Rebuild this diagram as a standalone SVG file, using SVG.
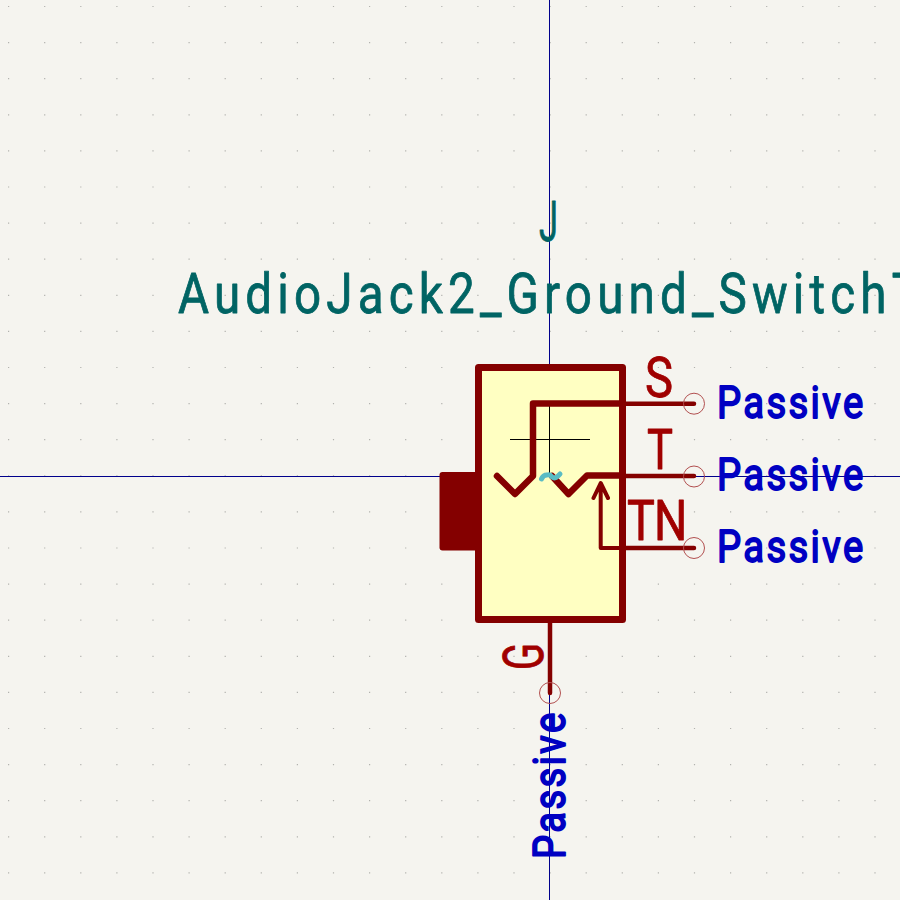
<svg xmlns="http://www.w3.org/2000/svg" width="900" height="900" viewBox="0 0 900 900">
<style>
.grid{stroke:#b2b2ae;stroke-width:1.2;stroke-dasharray:1.2 34.9;fill:none}
.axis{stroke:#00008b;stroke-width:1;fill:none}
.cross{stroke:#000;stroke-width:1;fill:none}
.wire{stroke:#840000;fill:none;stroke-linejoin:round;stroke-linecap:round}
.pin{stroke-width:4.5}
.inner{stroke-width:6.5}
.ring{stroke:#b25050;stroke-width:1;fill:none}
text{font-family:Roboto,"Liberation Sans",Arial,sans-serif;stroke-linejoin:round}
.ref{fill:#006464;stroke:#006464;stroke-width:.8;font-size:56px}
.pn{fill:#a00000;stroke:#a00000;stroke-width:.8;font-size:55px}
.ty{fill:#0000c2;stroke:#0000c2;stroke-width:1.8;font-size:45px}
</style>
<rect width="900" height="900" fill="#f5f4ef"/>
<g id="grid">
<path class="grid" d="M8 6.5H900M8 42.6H900M8 78.7H900M8 114.8H900M8 150.9H900M8 187H900M8 223.1H900M8 259.2H900M8 295.3H900M8 331.4H900M8 367.5H900M8 403.6H900M8 439.7H900M8 475.8H900M8 511.9H900M8 548H900M8 584.1H900M8 620.2H900M8 656.3H900M8 692.4H900M8 728.5H900M8 764.6H900M8 800.7H900M8 836.8H900M8 872.9H900"/>
</g>
<g id="axes">
<path class="axis" d="M549.500 0V900M0 476.500H900"/>
</g>
<g id="body">
<rect x="478.500" y="367.500" width="144" height="252" fill="#ffffc2" stroke="#840000" stroke-width="7" stroke-linejoin="round"/>
<rect x="439.500" y="472" width="39" height="78.500" rx="3" fill="#840000"/>
</g>
<g id="crosshair">
<path class="cross" d="M549.500 403V476M510 439.500H590"/>
</g>
<g id="connectors">
<path class="wire inner" d="M622 403.500H533V476L515 494L497 476"/>
<path class="wire inner" d="M552 476L568.500 494L587 475.500H622"/>
<path class="wire" stroke-width="4" d="M622 548H600.700V484M593.500 498L600.700 483L608 498"/>
<path class="wire pin" d="M622 403.700H694M622 476H694M622 548H694M550 622V693"/>
<path d="M541.500 479Q543 475 547 475Q550 474 552 477Q555 479 558 476L560 474" fill="none" stroke="#5bbcc4" stroke-width="5" stroke-linecap="round"/>
</g>
<g id="pin-markers">
<circle class="ring" cx="694" cy="403.700" r="10.500"/>
<circle class="ring" cx="694" cy="476.500" r="10.500"/>
<circle class="ring" cx="694" cy="548" r="10.500"/>
<circle class="ring" cx="550" cy="693" r="10.500"/>
</g>
<g id="labels">
<text class="ref" x="539" y="241" textLength="19" lengthAdjust="spacingAndGlyphs">J</text>
<text class="ref" transform="translate(178 313) scale(.85 1)" textLength="873" lengthAdjust="spacing">AudioJack2_Ground_SwitchT</text>
<text class="pn" x="645" y="397" textLength="28" lengthAdjust="spacingAndGlyphs">S</text>
<text class="pn" x="647" y="469" textLength="26" lengthAdjust="spacingAndGlyphs">T</text>
<text class="pn" transform="translate(627 540) scale(.85 1)" textLength="71" lengthAdjust="spacing">TN</text>
<text class="pn" transform="translate(543 670) rotate(-90)" textLength="27" lengthAdjust="spacingAndGlyphs">G</text>
<text class="ty" transform="translate(717 418) scale(.85 1)" textLength="172" lengthAdjust="spacing">Passive</text>
<text class="ty" transform="translate(717 490) scale(.85 1)" textLength="172" lengthAdjust="spacing">Passive</text>
<text class="ty" transform="translate(717 562) scale(.85 1)" textLength="172" lengthAdjust="spacing">Passive</text>
<text class="ty" transform="translate(565 859) rotate(-90) scale(.85 1)" textLength="172" lengthAdjust="spacing">Passive</text>
</g>
</svg>
